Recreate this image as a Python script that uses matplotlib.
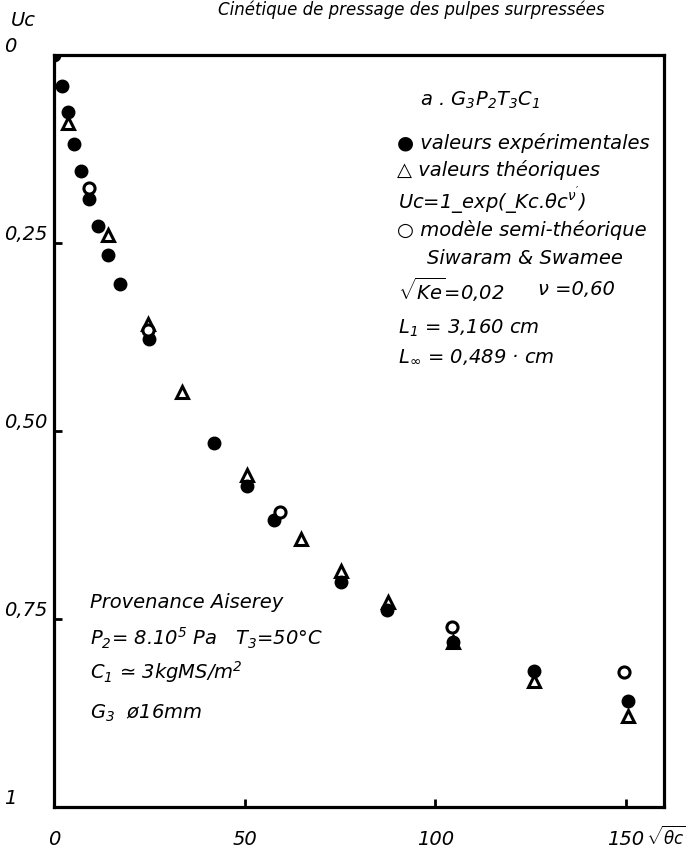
import matplotlib
matplotlib.use("Agg")
import matplotlib.pyplot as plt

plt.rcParams["font.family"] = ["DejaVu Sans"]
plt.rcParams["font.style"] = "italic"
plt.rcParams["mathtext.fontset"] = "custom"
plt.rcParams["mathtext.rm"] = "DejaVu Sans:italic"
plt.rcParams["mathtext.it"] = "DejaVu Sans:italic"
plt.rcParams["mathtext.bf"] = "DejaVu Sans:italic:bold"

# valeurs (x = racine(theta c), y = Uc)
x_exp = [0, 2.0, 3.75, 5.2, 7.1, 9.3, 11.5, 14.1, 17.3, 24.8, 42.0, 50.5, 57.7, 75.2, 87.4, 104.7, 125.9, 150.6]
y_exp = [0, 0.041, 0.076, 0.118, 0.154, 0.191, 0.227, 0.266, 0.305, 0.378, 0.516, 0.573, 0.619, 0.701, 0.738, 0.781, 0.819, 0.859]

x_theo = [3.75, 14.2, 24.7, 33.5, 50.7, 64.7, 75.2, 87.7, 104.7, 125.9, 150.6]
y_theo = [0.090, 0.239, 0.358, 0.448, 0.559, 0.644, 0.686, 0.728, 0.781, 0.833, 0.879]

x_semi = [9.3, 24.7, 59.4, 104.3, 149.5]
y_semi = [0.177, 0.366, 0.608, 0.761, 0.821]

xticks = [0, 50, 100, 150]
xtick_labels = ["0", "50", "100", "150"]
yticks = [0, 0.25, 0.5, 0.75, 1]
ytick_labels = ["0", "0,25", "0,50", "0,75", "1"]

fig = plt.figure(figsize=(6.86, 8.53), dpi=100)
ax = fig.add_axes([0.0787, 0.0528, 0.8892, 0.8816])

# points
ax.plot(x_theo, y_theo, linestyle="none", marker="^", markersize=9,
        markerfacecolor="white", markeredgecolor="black", markeredgewidth=2.2, zorder=3)
ax.plot(x_exp, y_exp, linestyle="none", marker="o", markersize=9,
        color="black", zorder=4)
ax.plot(x_semi, y_semi, linestyle="none", marker="o", markersize=8,
        markerfacecolor="white", markeredgecolor="black", markeredgewidth=2.2, zorder=5)

ax.set_xlim(0, 160)
ax.set_ylim(1, 0)

for s in ax.spines.values():
    s.set_linewidth(2.3)

ax.set_xticks(xticks, xtick_labels)
ax.set_yticks(yticks, ytick_labels)
ax.tick_params(axis="both", direction="in", length=6, width=2, labelsize=14)
ax.tick_params(axis="x", pad=16)
ax.tick_params(axis="y", pad=36)
for lab in ax.get_yticklabels():
    lab.set_horizontalalignment("left")
    lab.set_verticalalignment("bottom")

ax.set_ylabel("Uc", rotation=0, fontsize=14)
ax.yaxis.set_label_coords(-0.05, 1.035)
ax.set_xlabel(r"$\sqrt{θc}$", fontsize=12, ha="left", va="center")
ax.xaxis.set_label_coords(0.97, -0.039)

# legende / annotations
fs = 14
ax.text(0.60, 0.941, r"a . G$_3$P$_2$T$_3$C$_1$", transform=ax.transAxes, fontsize=fs, va="center")
ax.text(0.562, 0.884, "● valeurs expérimentales", transform=ax.transAxes, fontsize=fs, va="center")
ax.text(0.562, 0.848, "△ valeurs théoriques", transform=ax.transAxes, fontsize=fs, va="center")
ax.text(0.564, 0.806, r"Uc=1_exp(_Kc.θc$^{ν'}$)", transform=ax.transAxes, fontsize=fs, va="center")
ax.text(0.562, 0.769, "○ modèle semi-théorique", transform=ax.transAxes, fontsize=fs, va="center")
ax.text(0.611, 0.731, "Siwaram & Swamee", transform=ax.transAxes, fontsize=fs, va="center")
ax.text(0.564, 0.689, r"$\sqrt{Ke}$=0,02", transform=ax.transAxes, fontsize=fs, va="center")
ax.text(0.793, 0.689, "ν =0,60", transform=ax.transAxes, fontsize=fs, va="center")
ax.text(0.564, 0.638, r"L$_1$ = 3,160 cm", transform=ax.transAxes, fontsize=fs, va="center")
ax.text(0.564, 0.600, r"L$_{\infty}$ = 0,489 · cm", transform=ax.transAxes, fontsize=fs, va="center")

ax.text(0.059, 0.273, "Provenance Aiserey", transform=ax.transAxes, fontsize=fs, va="center")
ax.text(0.059, 0.226, r"P$_2$= 8.10$^5$ Pa   T$_3$=50°C", transform=ax.transAxes, fontsize=fs, va="center")
ax.text(0.059, 0.181, r"C$_1$ ≃ 3kgMS/m$^2$", transform=ax.transAxes, fontsize=fs, va="center")
ax.text(0.059, 0.126, r"G$_3$  ø16mm", transform=ax.transAxes, fontsize=fs, va="center")

# titre en haut de la page
fig.text(0.60, 0.999, "Cinétique de pressage des pulpes surpressées", fontsize=12, ha="center", va="top")

fig.savefig("out.png", dpi=100)
